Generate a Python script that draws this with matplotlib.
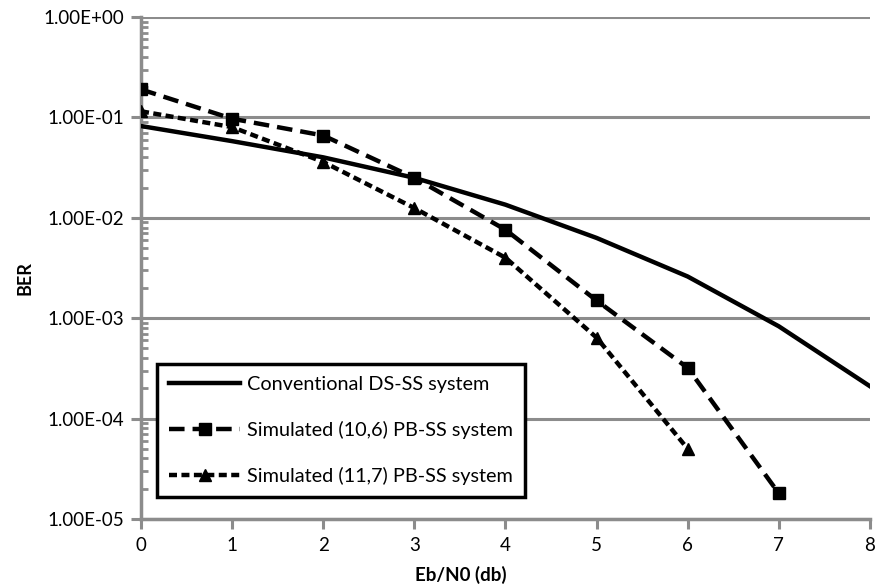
import matplotlib
matplotlib.use("Agg")
import matplotlib.pyplot as plt
from matplotlib.ticker import LogLocator, NullFormatter

plt.rcParams['font.family'] = ['Lato', 'DejaVu Sans']

ebn0 = [0, 1, 2, 3, 4, 5, 6, 7, 8]
ber_conv = [0.082, 0.058, 0.040, 0.025, 0.0135, 0.0063, 0.0026, 0.00083, 0.00021]
ebn0_106 = [0, 1, 2, 3, 4, 5, 6, 7]
ber_106 = [0.19, 0.097, 0.066, 0.025, 0.0076, 0.0015, 0.00032, 0.000018]
ebn0_117 = [0, 1, 2, 3, 4, 5, 6]
ber_117 = [0.115, 0.08, 0.036, 0.0125, 0.004, 0.00064, 0.00005]
labels = ["Conventional DS-SS system",
          "Simulated (10,6) PB-SS system",
          "Simulated (11,7) PB-SS system"]
yticks = [1e0, 1e-1, 1e-2, 1e-3, 1e-4, 1e-5]
ytick_labels = ["1.00E+00", "1.00E-01", "1.00E-02", "1.00E-03", "1.00E-04", "1.00E-05"]

fig = plt.figure(figsize=(8.76, 5.87), dpi=100)
ax = fig.add_axes([0.161, 0.116, 0.832, 0.855])
grey = '#8c8c8c'

ax.set_yscale('log')
ax.set_ylim(1e-5, 1e0)
ax.set_xlim(0, 8)

for y in yticks:
    ax.axhline(y, color=grey, lw=2.2, zorder=0)

ax.plot(ebn0, ber_conv, color='black', lw=3.2, label=labels[0], zorder=3)
ax.plot(ebn0_106, ber_106, color='black', lw=3.2, dashes=(3.5, 1.8),
        marker='s', markersize=8, label=labels[1], zorder=4)
ax.plot(ebn0_117, ber_117, color='black', lw=3.2, dashes=(1.8, 1.0),
        marker='^', markersize=9, label=labels[2], zorder=5)

ax.set_yticks(yticks)
ax.set_yticklabels(ytick_labels)
ax.yaxis.set_minor_locator(LogLocator(base=10, subs=range(2, 10), numticks=20))
ax.yaxis.set_minor_formatter(NullFormatter())
ax.set_xticks(range(0, 9))
ax.tick_params(axis='y', which='major', direction='out', length=7, width=2.2,
               color=grey, labelsize=13.5, pad=5)
ax.tick_params(axis='y', which='minor', direction='in', length=5, width=2,
               color=grey)
ax.tick_params(axis='x', which='major', direction='out', length=7, width=2.2,
               color=grey, labelsize=13.5, pad=6)

for s in ['top', 'right']:
    ax.spines[s].set_visible(False)
for s in ['left', 'bottom']:
    ax.spines[s].set_color(grey)
    ax.spines[s].set_linewidth(2.5)

ax.set_xlabel("Eb/N0 (db)", fontsize=13.5, fontweight='bold', va='center')
ax.xaxis.set_label_coords(0.439, -0.1116)
ax.set_ylabel("BER", fontsize=13, fontweight='bold', va='center')
ax.yaxis.set_label_coords(-0.159, 0.48)

leg = ax.legend(loc='lower left', bbox_to_anchor=(0.022, 0.044), fontsize=14.3,
                frameon=True, fancybox=False, handlelength=3.6,
                borderpad=0.6, labelspacing=1.4, handletextpad=0.35,
                borderaxespad=0)
leg.get_frame().set_edgecolor('black')
leg.get_frame().set_linewidth(2.5)
leg.get_frame().set_alpha(1)

fig.savefig("out.png", dpi=100)
